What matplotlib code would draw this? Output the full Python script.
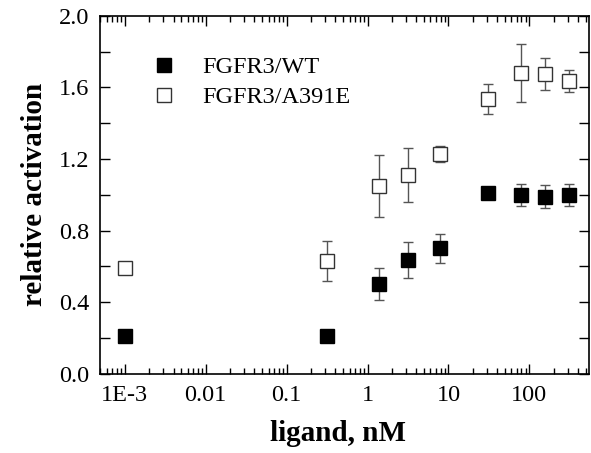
import matplotlib
matplotlib.use("Agg")
import matplotlib.pyplot as plt
from matplotlib.lines import Line2D
from matplotlib.ticker import (LogLocator, MultipleLocator, FixedFormatter,
                               FixedLocator, FormatStrFormatter)

# ligand concentration (nM); 1E-3 stands for the no-ligand control
CONC = [1e-3, 0.32, 1.4, 3.2, 7.8, 31, 78, 156, 310]

WT = [0.21, 0.21, 0.50, 0.635, 0.70, 1.01, 1.00, 0.99, 1.00]
WT_ERR = [0.0, 0.0, 0.09, 0.10, 0.08, 0.0, 0.06, 0.065, 0.06]

MUT = [0.59, 0.63, 1.05, 1.11, 1.23, 1.535, 1.68, 1.675, 1.635]
MUT_ERR = [0.0, 0.11, 0.175, 0.15, 0.045, 0.085, 0.16, 0.09, 0.06]

X_TICKS = [1e-3, 1e-2, 1e-1, 1, 10, 100]
X_LABELS = ["1E-3", "0.01", "0.1", "1", "10", "100"]

plt.rcParams["font.family"] = ["Liberation Serif", "DejaVu Serif"]

fig = plt.figure(figsize=(5.91, 4.53), dpi=100)
ax = fig.add_axes([0.170, 0.175, 0.827, 0.790])

ax.errorbar(CONC, WT, yerr=WT_ERR, fmt="s", ms=10, mfc="black", mec="black",
            ecolor="#555555", elinewidth=1.0, capsize=3.5, capthick=1.0,
            zorder=3)
ax.errorbar(CONC, MUT, yerr=MUT_ERR, fmt="s", ms=10, mfc="white", mec="#333333",
            mew=1.0, ecolor="#555555", elinewidth=1.0, capsize=3.5, capthick=1.0,
            zorder=3)

ax.set_xscale("log")
ax.set_xlim(5e-4, 550)
ax.set_ylim(0, 2.0)

ax.xaxis.set_major_locator(FixedLocator(X_TICKS))
ax.xaxis.set_major_formatter(FixedFormatter(X_LABELS))
ax.xaxis.set_minor_locator(LogLocator(base=10, subs=range(2, 10), numticks=20))
ax.yaxis.set_major_locator(MultipleLocator(0.4))
ax.yaxis.set_minor_locator(MultipleLocator(0.2))
ax.yaxis.set_major_formatter(FormatStrFormatter("%.1f"))

ax.tick_params(which="both", direction="in", top=True, right=True,
               labelsize=17.5, width=1.0, pad=8)
ax.tick_params(which="major", length=7)
ax.tick_params(which="minor", length=4)
ax.tick_params(axis="y", which="minor", length=7)
for sp in ax.spines.values():
    sp.set_linewidth(1.2)

ax.set_xlabel("ligand, nM", fontsize=21, fontweight="bold", labelpad=12)
ax.xaxis.set_label_coords(0.485, -0.13)
ax.set_ylabel("relative activation", fontsize=21, fontweight="bold", labelpad=8)

handles = [
    Line2D([], [], ls="none", marker="s", ms=10, mfc="black", mec="black"),
    Line2D([], [], ls="none", marker="s", ms=10, mfc="white", mec="#333333"),
]
ax.legend(handles, ["FGFR3/WT", "FGFR3/A391E"], loc="upper left",
          bbox_to_anchor=(0.08, 0.915), frameon=False, fontsize=17.5,
          handletextpad=1.0, handlelength=1.2, labelspacing=0.33,
          borderaxespad=0)

fig.savefig("out.png", dpi=100)
